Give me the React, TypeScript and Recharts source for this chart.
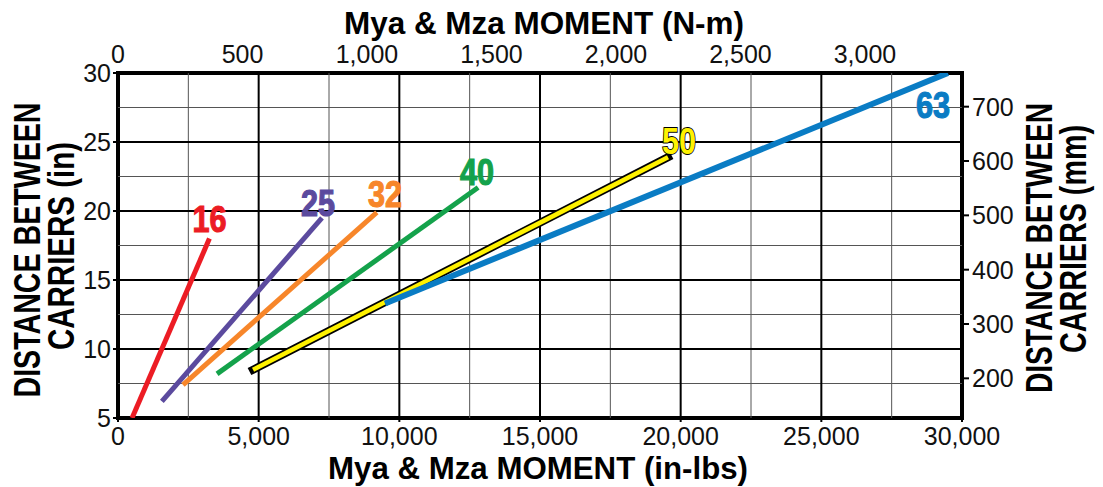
import {
  LineChart,
  Line,
  XAxis,
  YAxis,
  ReferenceLine,
  ReferenceArea,
  ReferenceDot,
} from 'recharts';

const FONT = '"Liberation Sans", Arial, Helvetica, sans-serif';
const IN_LBS_PER_NM = 8.8507;
const MM_PER_IN = 25.4;

// carrier sizes and their line ends, in-lbs / inches
const sizes = ['16', '25', '32', '40', '50', '63'];
const colors = ['#ec1c24', '#5b4a9e', '#f7862a', '#14a24b', '#fff200', '#0a7cc4'];
const momentStart = [500, 1560, 2310, 3520, 4800, 9490];
const momentEnd = [3250, 7250, 9200, 12800, 19550, 29500];
const distStart = [5, 6.2, 7.4, 8.2, 8.5, 13.3];
const distEnd = [18, 19.5, 19.9, 21.7, 23.9, 30];

// where the size numbers sit
const labelMoment = [3250, 7110, 9490, 12760, 19940, 28970];
const labelDist = [19.4, 20.6, 21.2, 22.8, 25.1, 27.7];

// axis ticks
const inLbsTicks = [0, 5000, 10000, 15000, 20000, 25000, 30000];
const nmTicks = [0, 500, 1000, 1500, 2000, 2500, 3000];
const inchTicks = [5, 10, 15, 20, 25, 30];
const mmTicks = [200, 300, 400, 500, 600, 700];
const majorX = [5000, 10000, 15000, 20000, 25000];
const minorX = [2500, 7500, 12500, 17500, 22500, 27500];
const majorY = [10, 15, 20, 25];
const minorY = [7.5, 12.5, 17.5, 22.5, 27.5];

const fmt = (v: number) => v.toLocaleString('en-US');

function LeftTick({ x, y, payload }: any) {
  return (
    <text x={x} y={y} dy={9} textAnchor="end" fontSize={25} fontFamily={FONT} fill="#111">
      {payload.value}
    </text>
  );
}

function RightTick({ x, y, payload }: any) {
  return (
    <text x={x} y={y} dy={9} textAnchor="start" fontSize={25} fontFamily={FONT} fill="#111">
      {payload.value}
    </text>
  );
}

function BottomTick({ x, y, payload }: any) {
  return (
    <text x={x} y={y} dy={21} textAnchor="middle" fontSize={25} fontFamily={FONT} fill="#111">
      {fmt(payload.value)}
    </text>
  );
}

function TopTick({ x, y, payload }: any) {
  return (
    <text x={x} y={y} dy={-6} textAnchor="middle" fontSize={25} fontFamily={FONT} fill="#111">
      {fmt(payload.value)}
    </text>
  );
}

function SizeLabel({ cx, cy, text, color }: any) {
  const yellow = text === '50';
  return (
    <text
      x={cx}
      y={cy}
      dy={13}
      textAnchor="middle"
      fontSize={37}
      fontWeight="bold"
      fontFamily={FONT}
      textLength={34}
      lengthAdjust="spacingAndGlyphs"
      fill={color}
      stroke={yellow ? '#000' : color}
      strokeWidth={yellow ? 1.8 : 1.2}
      paintOrder="stroke"
    >
      {text}
    </text>
  );
}

export default function App() {
  const series = sizes.map((s, i) => ({
    name: s,
    color: colors[i],
    data: [
      { x: momentStart[i], y: distStart[i] },
      { x: momentEnd[i], y: distEnd[i] },
    ],
  }));
  // the N-m axis has no series of its own; this empty one keeps it drawn
  const nmData = nmTicks.map((v) => ({ nm: v }));

  return (
    <div style={{ position: 'absolute', left: 0, top: 0, width: 1103, height: 487, background: '#fff' }}>
      <LineChart width={1103} height={487} margin={{ top: 0, right: 0, bottom: 0, left: 0 }}>
        <XAxis
          xAxisId="in"
          dataKey="x"
          type="number"
          orientation="bottom"
          domain={[0, 30000]}
          ticks={inLbsTicks}
          height={69}
          axisLine={false}
          tickLine={{ stroke: '#000', strokeWidth: 2 }}
          tickSize={4}
          tickMargin={2}
          tick={<BottomTick />}
          allowDataOverflow
        />
        <XAxis
          xAxisId="nm"
          dataKey="nm"
          type="number"
          orientation="top"
          domain={[0, 30000 / IN_LBS_PER_NM]}
          ticks={nmTicks}
          height={73}
          axisLine={false}
          tickLine={false}
          tickSize={0}
          tickMargin={4}
          tick={<TopTick />}
          allowDataOverflow
        />
        <YAxis
          yAxisId="in"
          type="number"
          orientation="left"
          domain={[5, 30]}
          ticks={inchTicks}
          width={118}
          axisLine={false}
          tickLine={{ stroke: '#000', strokeWidth: 2 }}
          tickSize={5}
          tickMargin={2}
          tick={<LeftTick />}
          allowDataOverflow
        />
        <YAxis
          yAxisId="mm"
          type="number"
          orientation="right"
          domain={[5 * MM_PER_IN, 30 * MM_PER_IN]}
          ticks={mmTicks}
          width={141}
          axisLine={false}
          tickLine={{ stroke: '#000', strokeWidth: 2 }}
          tickSize={7}
          tickMargin={3}
          tick={<RightTick />}
          allowDataOverflow
        />

        {minorX.map((v) => (
          <ReferenceLine key={`mx${v}`} x={v} xAxisId="in" yAxisId="in" stroke="#555" strokeWidth={1} />
        ))}
        {minorY.map((v) => (
          <ReferenceLine key={`my${v}`} y={v} xAxisId="in" yAxisId="in" stroke="#555" strokeWidth={1} />
        ))}
        {majorX.map((v) => (
          <ReferenceLine key={`Mx${v}`} x={v} xAxisId="in" yAxisId="in" stroke="#000" strokeWidth={2} />
        ))}
        {majorY.map((v) => (
          <ReferenceLine key={`My${v}`} y={v} xAxisId="in" yAxisId="in" stroke="#000" strokeWidth={2} />
        ))}

        <Line
          xAxisId="nm"
          yAxisId="in"
          data={nmData}
          dataKey="none"
          stroke="none"
          dot={false}
          activeDot={false}
          legendType="none"
          isAnimationActive={false}
        />

        {series.map((s) =>
          s.name === '50' ? (
            <Line
              key={`${s.name}-edge`}
              xAxisId="in"
              yAxisId="in"
              data={s.data}
              dataKey="y"
              type="linear"
              stroke="#000"
              strokeWidth={8}
              strokeLinecap="square"
              dot={false}
              activeDot={false}
              isAnimationActive={false}
            />
          ) : null
        )}
        {series.map((s) => (
          <Line
            key={s.name}
            xAxisId="in"
            yAxisId="in"
            data={s.data}
            dataKey="y"
            type="linear"
            stroke={s.color}
            strokeWidth={s.name === '50' ? 4.5 : s.name === '63' ? 6 : 5}
            strokeLinecap="butt"
            dot={false}
            activeDot={false}
            isAnimationActive={false}
          />
        ))}

        <ReferenceArea
          xAxisId="in"
          yAxisId="in"
          x1={0}
          x2={30000}
          y1={5}
          y2={30}
          fill="none"
          stroke="#000"
          strokeWidth={4}
        />

        {sizes.map((s, i) => (
          <ReferenceDot
            key={`lab${s}`}
            xAxisId="in"
            yAxisId="in"
            x={labelMoment[i]}
            y={labelDist[i]}
            r={0}
            shape={(p: any) => <SizeLabel cx={p.cx} cy={p.cy} text={s} color={colors[i]} />}
          />
        ))}
      </LineChart>

      <svg
        width={1103}
        height={487}
        style={{ position: 'absolute', left: 0, top: 0, pointerEvents: 'none' }}
      >
        <g fontFamily={FONT} fontWeight="bold" fill="#000">
          <text x={544} y={34} fontSize={31} textAnchor="middle" textLength={400} lengthAdjust="spacingAndGlyphs">
            Mya &amp; Mza MOMENT (N-m)
          </text>
          <text x={538} y={479} fontSize={31} textAnchor="middle" textLength={420} lengthAdjust="spacingAndGlyphs">
            Mya &amp; Mza MOMENT (in-lbs)
          </text>
          <text transform="translate(40,250) rotate(-90)" fontSize={36} textAnchor="middle" textLength={295} lengthAdjust="spacingAndGlyphs">
            DISTANCE BETWEEN
          </text>
          <text transform="translate(74,246) rotate(-90)" fontSize={36} textAnchor="middle" textLength={208} lengthAdjust="spacingAndGlyphs">
            CARRIERS (in)
          </text>
          <text transform="translate(1052,248) rotate(-90)" fontSize={36} textAnchor="middle" textLength={290} lengthAdjust="spacingAndGlyphs">
            DISTANCE BETWEEN
          </text>
          <text transform="translate(1086,239) rotate(-90)" fontSize={36} textAnchor="middle" textLength={228} lengthAdjust="spacingAndGlyphs">
            CARRIERS (mm)
          </text>
        </g>
      </svg>
    </div>
  );
}
